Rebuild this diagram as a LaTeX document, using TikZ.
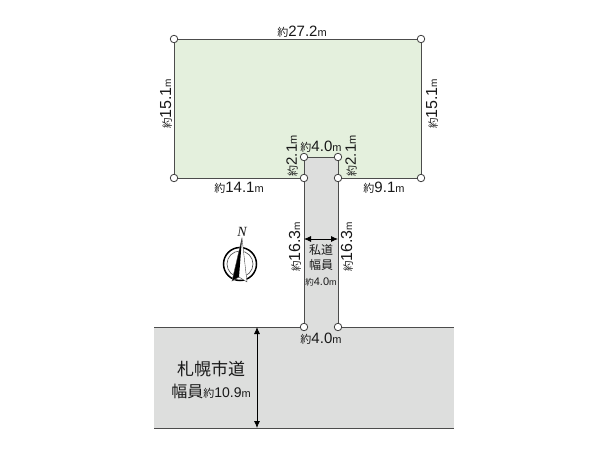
\documentclass[tikz,border=0pt]{standalone}
\usepackage{fontspec}
\setmainfont{Liberation Sans}
\newfontfamily\cjk{Noto Sans CJK JP}
\usetikzlibrary{arrows.meta}
\definecolor{lotgreen}{RGB}{228,240,221}
\definecolor{roadgrey}{RGB}{221,222,221}
\tikzset{
	pin/.style={draw=black!75,circle,fill=white,inner sep=0,outer sep=0,line width=0.8pt,minimum size=7.5pt},
	edge/.style={draw=black!70,line width=1pt},
	span/.style={draw=black,line width=0.8pt,{Latex[length=7pt,width=6pt]}-{Latex[length=7pt,width=6pt]}},
	lbl/.style={inner sep=0,outer sep=0,text=black!90},
}
\newcommand{\dist}[1]{{\cjk\fontsize{11}{11}\selectfont 約}{\fontsize{15}{15}\selectfont #1}{\fontsize{11}{11}\selectfont m}}
\newcommand{\distbig}[1]{{\cjk\fontsize{10.5}{11}\selectfont 約}{\fontsize{16}{16}\selectfont #1}{\fontsize{10}{10}\selectfont m}}
\begin{document}
\begin{tikzpicture}[x=1pt,y=-1pt]
	\useasboundingbox (0,0) rectangle (600,450);
	\fill[white] (0,0) rectangle (600,450);
	\fill[roadgrey] (154,327) rectangle (454,428);
	\fill[lotgreen] (174,39) rectangle (421,178);
	\fill[roadgrey] (304,157) rectangle (338,327);
	\node[pin] (tl) at (174,39) {};
	\node[pin] (tr) at (421,39) {};
	\node[pin] (br) at (421,178) {};
	\node[pin] (bl) at (174,178) {};
	\node[pin] (ml) at (304,178) {};
	\node[pin] (mr) at (338,178) {};
	\node[pin] (nl) at (304,157) {};
	\node[pin] (nr) at (338,157) {};
	\node[pin] (sl) at (304,327) {};
	\node[pin] (sr) at (338,327) {};
	\coordinate (rw) at (154,327);
	\coordinate (re) at (454,327);
	\coordinate (qw) at (154,428);
	\coordinate (qe) at (454,428);
	\coordinate (wt) at (257,327);
	\coordinate (wb) at (257,428);
	\coordinate (pl) at (304,239);
	\coordinate (pr) at (338,239);
	\draw[edge] (rw) -- (sl) (sr) -- (re);
	\draw[edge] (qw) -- (qe);
	\draw[edge] (tl) -- (tr) -- (br) -- (mr) (ml) -- (bl) -- (tl);
	\draw[edge] (nl) -- (nr) -- (mr) -- (sr) (nl) -- (ml) -- (sl);
	\draw[span] (wt) -- (wb);
	\draw[span] (pl) -- (pr);
	\node[lbl] (top) at (302,32) {\dist{27.2}};
	\node[lbl,rotate=90] (left) at (166,104) {\distbig{15.1}};
	\node[lbl,rotate=90] (right) at (432,104) {\distbig{15.1}};
	\node[lbl] (lowl) at (239,188) {\dist{14.1}};
	\node[lbl] (lowr) at (384,188) {\dist{9.1}};
	\node[lbl] (neck) at (321,147) {\dist{4.0}};
	\node[lbl,rotate=90] (neckl) at (292,156) {\dist{2.1}};
	\node[lbl,rotate=90] (neckr) at (351,156) {\dist{2.1}};
	\node[lbl,rotate=90] (pol) at (295,247) {\distbig{16.3}};
	\node[lbl,rotate=90] (por) at (347,247) {\distbig{16.3}};
	\node[lbl] (mouth) at (321,339) {\dist{4.0}};
	\node[lbl] (priva) at (321,250) {\cjk\fontsize{12}{13}\selectfont 私道};
	\node[lbl] (privb) at (321,265) {\cjk\fontsize{12}{13}\selectfont 幅員};
	\node[lbl] (privc) at (321,282) {{\cjk\fontsize{8.5}{9}\selectfont 約}{\fontsize{11}{11}\selectfont 4.0}{\fontsize{9}{9}\selectfont m}};
	\node[lbl] (city) at (211,369) {\cjk\fontsize{17}{17}\selectfont 札幌市道};
	\node[lbl] (cityw) at (211,391) {{\cjk\fontsize{16}{16}\selectfont 幅員}{\cjk\fontsize{11}{11}\selectfont 約}{\fontsize{14}{14}\selectfont 10.9}{\fontsize{11}{11}\selectfont m}};
	% north mark
	\node[draw=black,circle,line width=1.5pt,inner sep=0,minimum size=33pt] (ring) at (240,264) {};
	\node[draw=black!70,circle,line width=0.6pt,inner sep=0,minimum size=26pt] (ringin) at (240,264) {};
	\fill[white] (242,238) -- (247,282) -- (239,277) -- (232,281) -- cycle;
	\fill[black] (242,238) -- (239,277) -- (232,281) -- cycle;
	\draw[black!70,line width=0.4pt] (242,238) -- (247,282) -- (239,277) -- (232,281) -- cycle;
	\node[lbl] (north) at (242,232) {\fontspec{Liberation Serif}\itshape\fontsize{14}{14}\selectfont N};
\end{tikzpicture}
\end{document}
